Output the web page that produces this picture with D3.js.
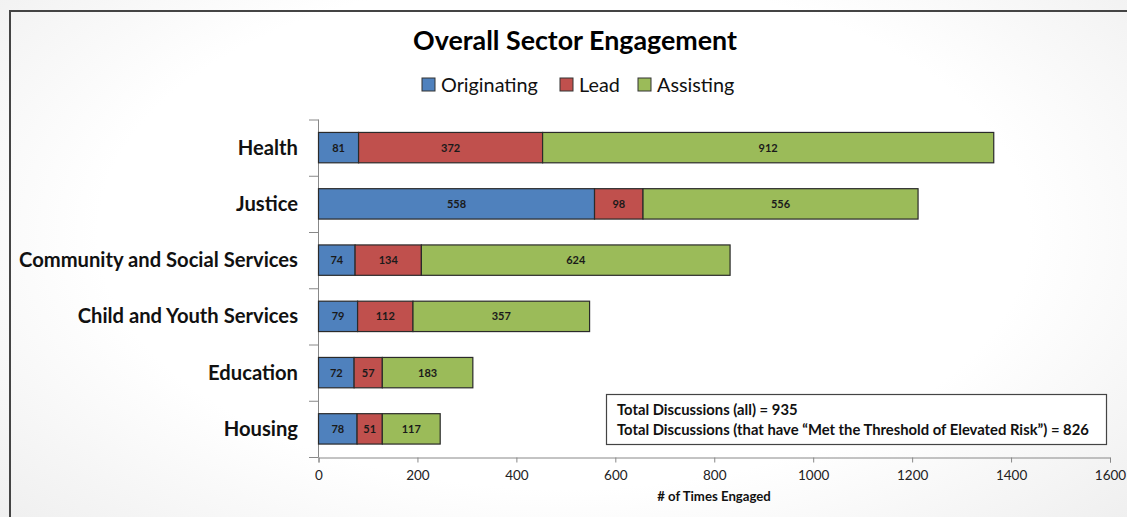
<!DOCTYPE html>
<html><head><meta charset="utf-8">
<script src="https://cdn.jsdelivr.net/npm/d3@7"></script>
<style>
html,body{margin:0;padding:0;width:1127px;height:517px;overflow:hidden;}
body{background:radial-gradient(ellipse 75% 90% at 50% 45%, #ffffff 55%, #ebebeb 100%);}
svg{display:block;}
text{font-family:Lato,"Open Sans",sans-serif;}
</style></head>
<body>
<svg id="chart" width="1127" height="517"></svg>
<script>
const categories = ["Health","Justice","Community and Social Services","Child and Youth Services","Education","Housing"];
const seriesNames = ["Originating","Lead","Assisting"];
const originating = [81,558,74,79,72,78];
const lead = [372,98,134,112,57,51];
const assisting = [912,556,624,357,183,117];
const xTicks = [0,200,400,600,800,1000,1200,1400,1600];
const colors = ["#4F81BD","#C0504D","#9BBB59"];
const titleText = "Overall Sector Engagement";
const axisTitle = "# of Times Engaged";
const noteLines = ["Total Discussions (all) = 935","Total Discussions (that have \u201cMet the Threshold of Elevated Risk\u201d) = 826"];

const svg = d3.select("#chart");
svg.append("path").attr("d","M10,530 L10,11 L1140,11").attr("fill","none").attr("stroke","#444").attr("stroke-width",2);

const x = d3.scaleLinear().domain([0,1600]).range([318.5,1110]);
const y = d3.scaleBand().domain(categories).range([119.5,457]).paddingInner(0.46).paddingOuter(0.23);
const yOuter = d3.scaleBand().domain(categories).range([119.5,457]);

const data = categories.map((c,i)=>({cat:c, Originating:originating[i], Lead:lead[i], Assisting:assisting[i]}));
const stacked = d3.stack().keys(seriesNames)(data);

svg.append("text").attr("x",575).attr("y",50).attr("text-anchor","middle")
  .attr("font-size",26.8).attr("font-weight","bold").attr("fill","#000").text(titleText);

const legX = [422,560,638];
seriesNames.forEach((s,i)=>{
  svg.append("rect").attr("x",legX[i]).attr("y",78).attr("width",13).attr("height",13)
    .attr("fill",colors[i]).attr("stroke","#333").attr("stroke-width",1);
  svg.append("text").attr("x",legX[i]+19).attr("y",91.5).attr("font-size",19.8).attr("fill","#111").text(s);
});

const gx = svg.append("g").attr("transform","translate(0,457.5)")
  .call(d3.axisBottom(x).tickValues(xTicks).tickSize(5).tickPadding(8).tickFormat(d3.format("d")));
gx.select(".domain").attr("stroke","#888");
gx.selectAll(".tick line").attr("stroke","#888");
gx.selectAll(".tick text").attr("font-size",13.5).attr("fill","#222").attr("font-family","Lato,'Open Sans',sans-serif");

svg.append("line").attr("x1",318.5).attr("x2",318.5).attr("y1",119.5).attr("y2",457.5).attr("stroke","#888");
const bounds = categories.map(c=>yOuter(c)).concat([457]);
svg.selectAll(".ytick").data(bounds).enter().append("line")
  .attr("x1",309).attr("x2",318.5).attr("y1",d=>d+0.5).attr("y2",d=>d+0.5).attr("stroke","#888");

svg.selectAll(".cat").data(categories).enter().append("text")
  .attr("x",298).attr("y",d=>yOuter(d)+yOuter.bandwidth()/2+7)
  .attr("text-anchor","end").attr("font-size",20.2).attr("font-weight","bold").attr("fill","#111").text(d=>d);

stacked.forEach((layer,li)=>{
  const g = svg.append("g");
  g.selectAll("rect").data(layer).enter().append("rect")
    .attr("x",d=>x(d[0])).attr("width",d=>x(d[1])-x(d[0]))
    .attr("y",(d,i)=>y(categories[i])).attr("height",y.bandwidth())
    .attr("fill",colors[li]).attr("stroke","#2a2a2a").attr("stroke-width",1.2);
  g.selectAll("text").data(layer).enter().append("text")
    .attr("x",d=>(x(d[0])+x(d[1]))/2).attr("y",(d,i)=>y(categories[i])+y.bandwidth()/2+4)
    .attr("text-anchor","middle").attr("font-size",11).attr("font-weight","bold").attr("fill","#1a1a1a")
    .text(d=>d[1]-d[0]);
});

svg.append("text").attr("x",714).attr("y",501).attr("text-anchor","middle")
  .attr("font-size",13.2).attr("font-weight","bold").attr("fill","#111").text(axisTitle);

svg.append("rect").attr("x",606.5).attr("y",394.5).attr("width",500).attr("height",50)
  .attr("fill","#fff").attr("stroke","#444").attr("stroke-width",1.2);
noteLines.forEach((t,i)=>{
  svg.append("text").attr("x",617).attr("y",414.5+i*20).attr("font-size",14.8).attr("font-weight","bold")
    .attr("fill","#111").text(t);
});
</script>
</body></html>
